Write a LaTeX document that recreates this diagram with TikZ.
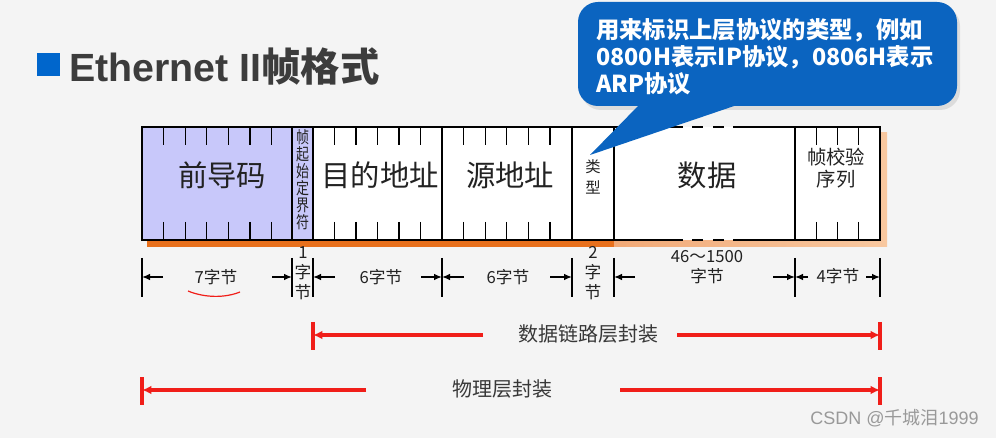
\documentclass[tikz,border=0pt]{standalone}
\usepackage{fontspec}
\setmainfont{Liberation Sans}
\newfontfamily\cjk{Noto Sans CJK SC}
\usetikzlibrary{arrows.meta}
\definecolor{bggray}{RGB}{244,244,244}
\definecolor{callblue}{RGB}{11,100,192}
\definecolor{sqblue}{RGB}{0,102,204}
\definecolor{lav}{RGB}{200,200,250}
\definecolor{shorange}{RGB}{232,112,28}
\definecolor{shpeach}{RGB}{248,200,160}
\definecolor{encred}{RGB}{240,30,25}
\definecolor{txt}{RGB}{34,34,34}
\definecolor{titlegray}{RGB}{60,60,60}

\begin{document}
\begin{tikzpicture}[x=0.75pt,y=-0.75pt,
  frame/.style={line width=2.2pt},
  tick/.style={line width=1pt},
  big/.style={font=\cjk\fontsize{22}{26}\selectfont, text=txt, inner sep=0pt},
  mid/.style={font=\cjk\fontsize{14.5}{17}\selectfont, text=txt, align=center, inner sep=0pt},
  small/.style={font=\cjk\fontsize{12.5}{15}\selectfont, text=txt, align=center, inner sep=0pt},
  bar/.style={line width=1.1pt},
  size/.style={line width=1.1pt, -{Latex[length=6pt,width=5pt]}},
  encbar/.style={encred, line width=2.3pt},
  enc/.style={encred, line width=2.3pt, -{Latex[length=7pt,width=6.5pt]}},
  enclab/.style={font=\cjk\fontsize{15}{18}\selectfont, text=txt!90, inner sep=0pt}]
\useasboundingbox (0,0) rectangle (996,438);
\fill[bggray] (0,0) rectangle (996,438);

% title
\fill[sqblue] (37,53) rectangle (60,76);
\node[anchor=west, inner sep=0pt, text=titlegray, font=\bfseries\fontsize{29.5}{35}\selectfont] (title) at (69,66) {Ethernet II{\cjk 帧格式}};

% shadow of the frame
\fill[shorange] (147,133) rectangle (614,247);
\shade[left color=shorange!60, right color=shpeach] (614,133) rectangle (887,247);

% fields
\fill[lav] (142,127) rectangle (313,240);
\fill[white] (313,127) rectangle (880,240);
\draw[frame] (683,127) -- (142,127) -- (142,240) -- (683,240);
\draw[frame] (733,127) -- (880,127) -- (880,240) -- (733,240);
\foreach \x in {692,713} \draw[frame] (\x,127) -- ++(11,0) (\x,240) -- ++(11,0);
\foreach \x in {292,313,442,572,614,795} \draw[frame] (\x,127) -- (\x,240);
\foreach \i in {1,...,6} \draw[tick] ({142+21.6*\i},127) -- ++(0,18) ({142+21.6*\i},222) -- ++(0,18);
\foreach \i in {1,...,5} \draw[tick] ({313+21.5*\i},127) -- ++(0,18) ({313+21.5*\i},222) -- ++(0,18);
\foreach \i in {1,...,5} \draw[tick] ({442+21.6*\i},127) -- ++(0,18) ({442+21.6*\i},222) -- ++(0,18);
\foreach \i in {1,...,3} \draw[tick] ({795+21.25*\i},127) -- ++(0,18) ({795+21.25*\i},222) -- ++(0,18);

\node[big] (pre) at (222,175) {前导码};
\node[font=\cjk\fontsize{12.5}{12.8}\selectfont, text=txt, align=center, inner sep=0pt, xscale=0.78, transform shape] (sfd) at (302.5,180) {帧\\起\\始\\定\\界\\符};
\node[big] (dst) at (380,175) {目的地址};
\node[big] (src) at (510,175) {源地址};
\node[mid, font=\cjk\fontsize{11.5}{15.5}\selectfont] (typ) at (593,177) {类\\型};
\node[big] (dat) at (707,175) {数据};
\node[mid] (fcs) at (836,168) {帧校验\\序列};

% byte counts
\foreach \x in {142,292,313,442,572,614,795,880} \draw[bar] (\x,258) -- (\x,297);
\foreach \a/\b in {163/142,272/292,335/313,421/442,464/442,550/572,635/614,773/795,808/795,866/880}
  \draw[size] (\a,277) -- (\b,277);
\node[small] (b7) at (216,277) {7字节};
\node[small] (b1) at (303,273) {1\\字\\节};
\node[small] (b6a) at (381,277) {6字节};
\node[small] (b6b) at (508,277) {6字节};
\node[small] (b2) at (593,273) {2\\字\\节};
\node[small] (bd) at (707,267) {46～1500\\字节};
\node[small] (b4) at (838,276) {4字节};
\draw[encred, line width=0.9pt] (188,291) .. controls (205,298) and (225,298) .. (240,292);

% encapsulation
\draw[encbar] (313,322) -- (313,350) (880,322) -- (880,350);
\node[enclab] (dll) at (588,334) {数据链路层封装};
\draw[enc] (483,335) -- (313,335);
\draw[enc] (677,335) -- (880,335);
\draw[encbar] (142,377) -- (142,405) (880,377) -- (880,405);
\node[enclab] (phy) at (502,389) {物理层封装};
\draw[enc] (366,390) -- (142,390);
\draw[enc] (620,390) -- (880,390);

% callout
\fill[gray!45, opacity=.5, rounded corners=15] (581,6) rectangle (960,110);
\fill[callblue, rounded corners=15] (578,2) rectangle (957,106);
\fill[callblue] (640,104) -- (590,155) -- (740,104) -- cycle;
\node[anchor=west, align=left, text=white, inner sep=0pt, font=\cjk\bfseries\fontsize{17.5}{20.25}\selectfont] (note) at (596,57) {用来标识上层协议的类型，例如\\0800H表示IP协议，0806H表示\\ARP协议};

\node[anchor=west, inner sep=0pt, text=gray!80, font=\fontsize{13.5}{16}\selectfont] (mark) at (810,418) {CSDN @{\cjk 千城泪}1999};
\end{tikzpicture}
\end{document}
